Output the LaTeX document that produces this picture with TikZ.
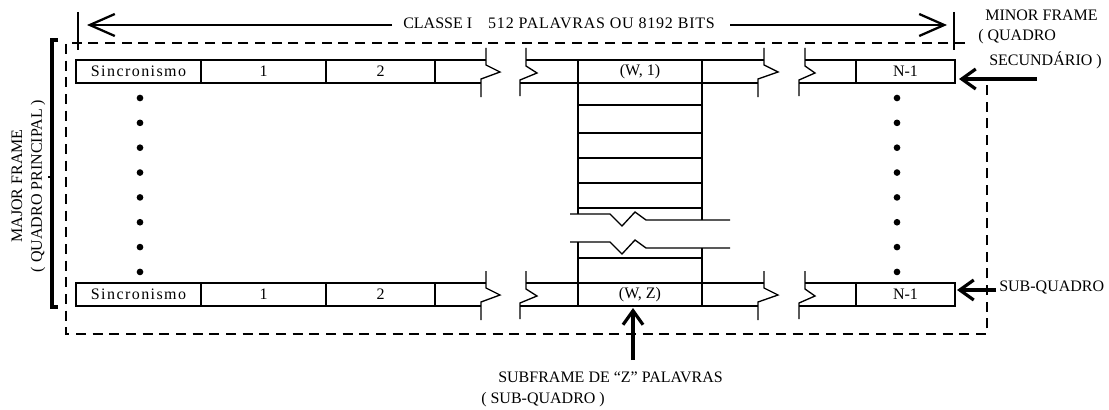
\documentclass[tikz,border=0pt]{standalone}
\usepackage{fontspec}
\setmainfont{Liberation Serif}
\usetikzlibrary{arrows.meta}
\newcommand{\myfs}{\fontsize{12}{14}\selectfont}
\begin{document}
\begin{tikzpicture}[x=0.75pt,y=-0.75pt,
  ln/.style={line width=1pt},
  cell/.style={draw,line width=1pt,inner sep=0pt,minimum height=17.25pt,font=\myfs},
  txt/.style={inner sep=0pt,font=\myfs},
  dashln/.style={line width=1.1pt,dash pattern=on 7.5pt off 5pt},
  toparrow/.style={line width=1.7pt,-{Straight Barb[length=18.75pt,width=16.5pt]}},
  bigarrow/.style={line width=2.4pt,-{Straight Barb[length=10.5pt,width=15pt]}},
  bigdot/.style={circle,fill,inner sep=0pt,minimum size=5pt},
]
\useasboundingbox (0,0) rectangle (1109,410);

% top row cells
\node[cell,minimum width=93.75pt] (s1) at (138.5,71.5) {\addfontfeature{LetterSpace=9}Sincronismo};
\node[cell,minimum width=93.75pt] (a1) at (263.5,71.5) {1};
\node[cell,minimum width=81.75pt] (b1) at (380.5,71.5) {2};
\node[cell,minimum width=93pt] (w1) at (640,71.5) {(W, 1)};
\node[cell,minimum width=74.25pt] (n1) at (905.5,71.5) {N-1};
% bottom row cells
\node[cell,minimum width=93.75pt] (s2) at (138.5,294.5) {\addfontfeature{LetterSpace=9}Sincronismo};
\node[cell,minimum width=93.75pt] (a2) at (263.5,294.5) {1};
\node[cell,minimum width=81.75pt] (b2) at (380.5,294.5) {2};
\node[cell,minimum width=93pt] (w2) at (640,294.5) {(W, Z)};
\node[cell,minimum width=74.25pt] (n2) at (905.5,294.5) {N-1};

% open segments and breaks
\foreach \dy in {0,223}{
 \begin{scope}[shift={(0,\dy)}]
  \draw[ln] (435,60) -- (486,60) (435,83) -- (481,83);
  \draw[ln] (486,48) -- (486,65) -- (500,72) -- (481,79) -- (481,97);
  \draw[ln] (526,48) -- (526,66) -- (537,73) -- (520,80) -- (520,96);
  \draw[ln] (526,60) -- (578,60) (520,83) -- (578,83);
  \draw[ln] (702,60) -- (764,60) (702,83) -- (758,83);
  \draw[ln] (764,48) -- (764,65) -- (778,72) -- (758,79) -- (758,97);
  \draw[ln] (805,48) -- (805,66) -- (815,73) -- (799,80) -- (799,96);
  \draw[ln] (805,60) -- (856,60) (799,83) -- (856,83);
 \end{scope}
}

% middle column
\draw[ln] (578,83) -- (578,214) (702,83) -- (702,220);
\foreach \yy in {105,133,158,183,208}{\draw[ln] (578,\yy) -- (702,\yy);}
\draw[ln] (570,214) -- (610,214) -- (622,226) -- (635,212) -- (646,220) -- (730,220);
\draw[ln] (570,242) -- (610,242) -- (622,254) -- (635,240) -- (646,248) -- (730,248);
\draw[ln] (578,242) -- (578,283) (702,248) -- (702,283);
\draw[ln] (578,258) -- (702,258);

% dots
\foreach \k in {0,...,7}{
  \node[bigdot] (dl\k) at (140,98+24.85*\k) {};
  \node[bigdot] (dr\k) at (897,98+24.85*\k) {};
}

% dashed frame
\draw[dashln] (965,43) -- (66,43) -- (66,334) -- (987,334) -- (987,84);

% top dimension
\draw[ln] (78,12) -- (78,50);
\draw[ln] (954,12) -- (954,50);
\node[txt,anchor=west] (cls) at (403,23) {CLASSE I\hspace{12pt}{\addfontfeature{LetterSpace=5}512 PALAVRAS OU 8192 BITS}};
\coordinate (tlTail) at (392,25);
\coordinate (tlTip) at (87,25);
\coordinate (trTail) at (730,25);
\coordinate (trTip) at (947,25);
\draw[toparrow] (tlTail) -- (tlTip);
\draw[toparrow] (trTail) -- (trTip);

% right labels
\node[txt,anchor=west] (minor) at (985,15) {MINOR FRAME};
\node[txt,anchor=west] (quad) at (978,37) {( QUADRO};
\node[txt,anchor=west] (sec) at (989,60) {SECUNDÁRIO )};
\coordinate (minorTail) at (1037,79);
\coordinate (minorTip) at (959,79);
\draw[bigarrow] (minorTail) -- (minorTip);

\node[txt,anchor=west] (subq) at (999,287) {SUB-QUADRO};
\coordinate (subTail) at (996,290);
\coordinate (subTip) at (957,290);
\draw[bigarrow] (subTail) -- (subTip);

% bottom label
\node[txt,anchor=west] (subf) at (498,377) {SUBFRAME DE “Z” PALAVRAS};
\node[txt,anchor=west] (subq2) at (481,400) {( SUB-QUADRO )};
\coordinate (upTail) at (633,360);
\coordinate (upTip) at (633,308);
\draw[bigarrow] (upTail) -- (upTip);

% left bracket and labels
\draw[line width=3pt] (58,40) -- (52,40) -- (52,307) -- (58,307);
\draw[line width=1.5pt] (52,177) -- (48,177);
\node[txt,rotate=90] (maj) at (17,186) {MAJOR FRAME};
\node[txt,rotate=90] (qp) at (38,186) {( QUADRO PRINCIPAL )};
\end{tikzpicture}
\end{document}
